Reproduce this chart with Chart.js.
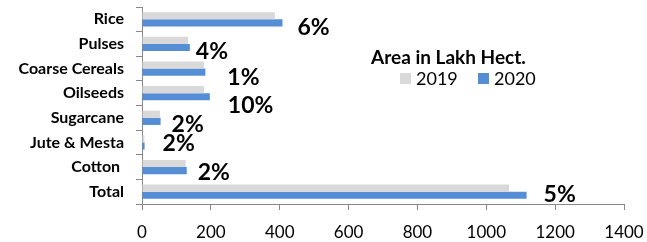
<!DOCTYPE html>
<html>
<head>
<meta charset="utf-8">
<script src="https://cdn.jsdelivr.net/npm/chart.js@4/dist/chart.umd.min.js"></script>
<style>
  html, body { margin: 0; padding: 0; background: #fff; }
  canvas { display: block; }
</style>
</head>
<body>
<canvas id="areaChart" width="647" height="242"></canvas>
<script>
// Crop area, lakh hectares
const categories = ["Rice", "Pulses", "Coarse Cereals", "Oilseeds", "Sugarcane", "Jute & Mesta", "Cotton ", "Total"];
const area2019 = [386, 134, 180, 180, 52, 7, 127, 1066];
const area2020 = [408, 139, 184, 197, 54, 7.5, 130, 1117];
const changeLabels = ["6%", "4%", "1%", "10%", "2%", "2%", "2%", "5%"];
const seriesNames = ["2019", "2020"];
const legendTitle = "Area in Lakh Hect.";
const xMin = 0, xMax = 1400, xStep = 200;

const FONT = "Lato";

// growth % labels next to the 2020 bars (hand placed in the original, so small nudges)
const changeLabelPlugin = {
  id: "changeLabels",
  afterDatasetsDraw(chart, args, opts) {
    const meta = chart.getDatasetMeta(1);
    const c = chart.ctx;
    c.save();
    c.font = "bold 23px " + FONT;
    c.fillStyle = "#000";
    c.textAlign = "left";
    c.textBaseline = "middle";
    meta.data.forEach((bar, i) => {
      const n = opts.nudge[i] || [0, 0];
      c.fillText(changeLabels[i], bar.x + 14 + n[0], bar.y + 4 + n[1]);
    });
    c.restore();
  }
};

// legend sits inside the plot, drawn by hand
const insideLegendPlugin = {
  id: "insideLegend",
  afterDraw(chart) {
    const c = chart.ctx;
    const ds = chart.data.datasets;
    c.save();
    c.fillStyle = "#000";
    c.textBaseline = "middle";
    c.textAlign = "left";
    c.font = "bold 19px " + FONT;
    c.fillText(legendTitle, 371, 58);
    c.font = "18px " + FONT;
    let x = 400;
    ds.forEach(d => {
      c.fillStyle = d.backgroundColor;
      c.fillRect(x, 73, 11, 11);
      c.fillStyle = "#000";
      c.fillText(d.label, x + 16, 79);
      x += 78;
    });
    c.restore();
  }
};

const ctx = document.getElementById("areaChart").getContext("2d");

new Chart(ctx, {
  type: "bar",
  data: {
    labels: categories,
    datasets: [
      { label: seriesNames[0], data: area2019, backgroundColor: "#d9d9d9" },
      { label: seriesNames[1], data: area2020, backgroundColor: "#558ed5" }
    ]
  },
  options: {
    indexAxis: "y",
    responsive: false,
    animation: false,
    datasets: { bar: { categoryPercentage: 0.58, barPercentage: 1 } },
    layout: { padding: { top: 7, right: 23, bottom: 0, left: 0 } },
    plugins: {
      legend: { display: false },
      tooltip: { enabled: false },
      changeLabels: {
        nudge: [[1, 1], [-8, 0], [8, 1], [4, 5], [-3, -1], [4, -6], [-3, -2], [3, -5]]
      }
    },
    scales: {
      x: {
        min: xMin,
        max: xMax,
        ticks: {
          stepSize: xStep, color: "#000", font: { family: FONT, size: 17 }, padding: 12,
          callback: v => String(v)
        },
        grid: { drawOnChartArea: false, drawTicks: true, tickLength: 6, color: "#888" },
        border: { color: "#888" },
        afterFit: s => { s.height = 38; s.paddingLeft = 0; s.paddingRight = 0; }
      },
      y: {
        ticks: { color: "#000", font: { family: FONT, size: 16, weight: "bold" }, padding: 12 },
        grid: { offset: true, drawOnChartArea: false, drawTicks: true, tickLength: 6, color: "#888" },
        border: { color: "#888" },
        afterFit: s => { s.width = 142; s.paddingTop = 0; s.paddingBottom = 0; }
      }
    }
  },
  plugins: [changeLabelPlugin, insideLegendPlugin]
});
</script>
</body>
</html>
